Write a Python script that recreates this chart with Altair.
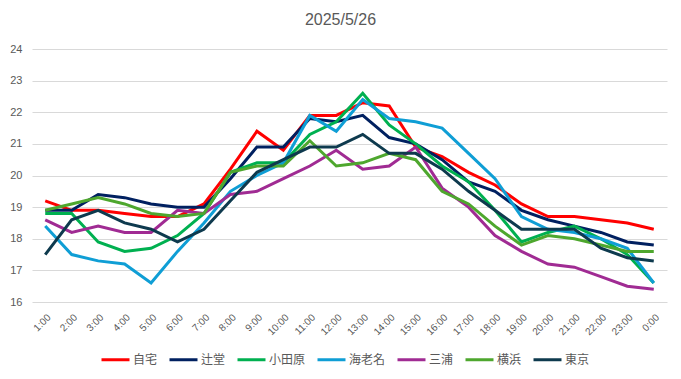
import altair as alt
import pandas as pd

hours = ["1:00", "2:00", "3:00", "4:00", "5:00", "6:00", "7:00", "8:00", "9:00", "10:00",
         "11:00", "12:00", "13:00", "14:00", "15:00", "16:00", "17:00", "18:00", "19:00",
         "20:00", "21:00", "22:00", "23:00", "0:00"]

series = ["自宅", "辻堂", "小田原", "海老名", "三浦", "横浜", "東京"]
colors = ["#FF0000", "#002060", "#00B050", "#0F9ED5", "#A02B93", "#4EA72E", "#0E3A4E"]

jitaku = [19.2, 18.9, 18.9, 18.8, 18.7, 18.7, 19.1, 20.2, 21.4, 20.8, 21.9, 21.9,
          22.3, 22.2, 20.9, 20.6, 20.1, 19.7, 19.1, 18.7, 18.7, 18.6, 18.5, 18.3]
tsujido = [18.9, 18.9, 19.4, 19.3, 19.1, 19.0, 19.0, 19.9, 20.9, 20.9, 21.8, 21.7,
           21.9, 21.2, 21.0, 20.5, 19.8, 19.5, 18.9, 18.6, 18.4, 18.2, 17.9, 17.8]
odawara = [18.8, 18.8, 17.9, 17.6, 17.7, 18.1, 18.8, 20.1, 20.4, 20.4, 21.3, 21.7,
           22.6, 21.6, 21.0, 20.3, 19.8, 18.9, 17.9, 18.2, 18.4, 18.0, 17.5, 16.6]
ebina = [18.4, 17.5, 17.3, 17.2, 16.6, 17.6, 18.5, 19.5, 20.0, 20.4, 21.9, 21.4,
         22.4, 21.8, 21.7, 21.5, 20.7, 19.9, 18.7, 18.3, 18.2, 18.0, 17.7, 16.6]
miura = [18.6, 18.2, 18.4, 18.2, 18.2, 18.9, 18.8, 19.4, 19.5, 19.9, 20.3, 20.8,
         20.2, 20.3, 20.9, 19.6, 19.0, 18.1, 17.6, 17.2, 17.1, 16.8, 16.5, 16.4]
yokohama = [18.9, 19.1, 19.3, 19.1, 18.8, 18.7, 18.8, 20.1, 20.3, 20.3, 21.1, 20.3,
            20.4, 20.7, 20.5, 19.5, 19.1, 18.4, 17.8, 18.1, 18.0, 17.8, 17.6, 17.6]
tokyo = [17.5, 18.6, 18.9, 18.5, 18.3, 17.9, 18.3, 19.2, 20.1, 20.5, 20.9, 20.9,
         21.3, 20.7, 20.7, 20.2, 19.5, 18.9, 18.3, 18.3, 18.3, 17.7, 17.4, 17.3]

values = [jitaku, tsujido, odawara, ebina, miura, yokohama, tokyo]
y_ticks = list(range(16, 25))

rows = []
for name, vals in zip(series, values):
    for i, (h, v) in enumerate(zip(hours, vals)):
        rows.append({"time": h, "site": name, "temp": v, "order": i})
df = pd.DataFrame(rows)

label_color = "#595959"

chart = alt.Chart(df).mark_line(strokeWidth=3, strokeJoin="miter").encode(
    x=alt.X("time:N", sort=hours,
            scale=alt.Scale(type="point", padding=0.5),
            axis=alt.Axis(title=None, labelAngle=-45, ticks=False, tickSize=0, domain=False,
                          grid=False, labelFontSize=10, labelColor=label_color,
                          labelFont="Liberation Sans", labelPadding=10)),
    y=alt.Y("temp:Q", scale=alt.Scale(domain=[16, 24], nice=False, zero=False),
            axis=alt.Axis(title=None, values=y_ticks, ticks=False, domain=False,
                          gridColor="#D9D9D9", gridWidth=1, labelFontSize=11,
                          labelColor=label_color, labelFont="Liberation Sans",
                          labelPadding=10)),
    color=alt.Color("site:N", sort=series,
                    scale=alt.Scale(domain=series, range=colors),
                    legend=alt.Legend(title=None, orient="none", legendX=68, legendY=295,
                                      direction="horizontal", symbolType="stroke",
                                      symbolSize=784, symbolStrokeWidth=3,
                                      labelFont="Noto Sans CJK JP", labelFontSize=12,
                                      labelColor=label_color, labelOffset=2,
                                      columnPadding=5)),
    order=alt.Order("order:Q"),
).properties(
    width=635,
    height=253,
    autosize=alt.AutoSizeParams(type="none"),
    padding={"left": 24, "top": 41, "right": 6, "bottom": 69},
    title=alt.TitleParams("2025/5/26", fontSize=16, color=label_color,
                          font="Liberation Sans", fontWeight="normal",
                          anchor="middle", offset=15, dx=-9),
).configure_view(stroke=None)

chart.save("out.html", embed_options={"renderer": "svg", "actions": False})
